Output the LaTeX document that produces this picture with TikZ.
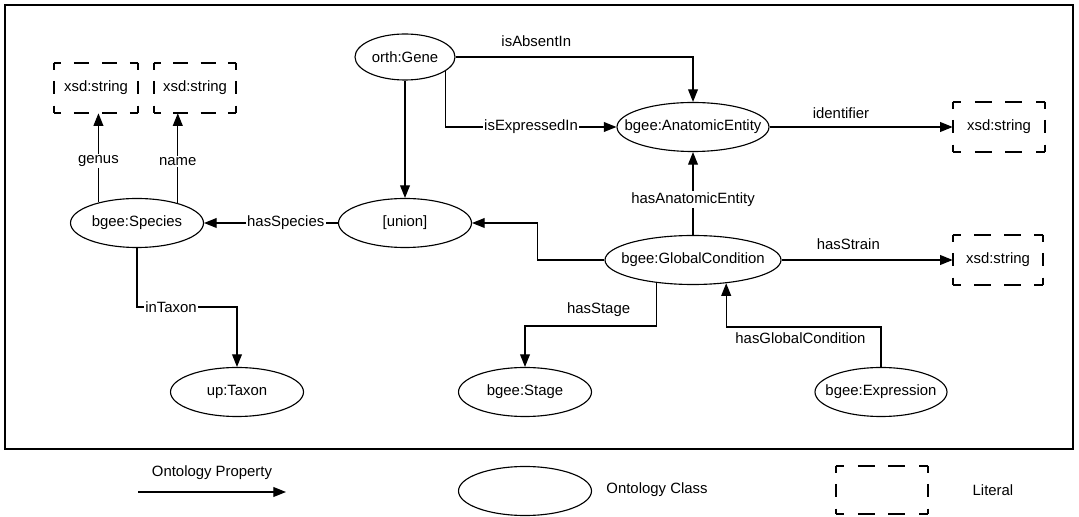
\documentclass[tikz,border=0pt]{standalone}
\usepackage{fontspec}
\setmainfont{Liberation Sans}
\usetikzlibrary{shapes.geometric, arrows.meta}

\newcommand{\clsname}[1]{\makebox[0pt]{#1}}

\begin{document}
\begin{tikzpicture}[
    x=0.025cm, y=-0.025cm,
    >={Triangle[length=9pt, width=7pt]},
    font=\fontsize{10.6}{12}\selectfont,
    cls/.style={draw, ellipse, line width=0.8pt, inner sep=0pt, minimum width=#1*0.025cm, minimum height=1.225cm},
    cls/.default=133,
    lit/.style={rectangle, minimum width=#1*0.025cm, minimum height=1.25cm},
    lit/.default=90,
    litline/.style={line width=1.2pt, line cap=butt},
    prop/.style={->, line width=0.9pt},
    lbl/.style={fill=white, inner sep=1pt}
]
    \useasboundingbox (0,0) rectangle (1079,517);
    \draw[line width=0.8pt] (5,5) rectangle (1073,449);

    \node[cls=100, minimum height=1.15cm] (gene) at (405,57) {\clsname{orth:Gene}};
    \node[cls=152] (ae) at (693,127) {\clsname{bgee:AnatomicEntity}};
    \node[cls] (union) at (405,223) {\clsname{[union]}};
    \node[cls] (species) at (137,223) {\clsname{bgee:Species}};
    \node[cls=176] (gc) at (693,260) {\clsname{bgee:GlobalCondition}};
    \node[cls] (taxon) at (237,392) {\clsname{up:Taxon}};
    \node[cls] (stage) at (525,392) {\clsname{bgee:Stage}};
    \node[cls=132] (expr) at (881,392) {\clsname{bgee:Expression}};
    \node[lit=84] (genusLit) at (96,88) {xsd:string};
    \node[lit=82] (nameLit) at (195,88) {xsd:string};
    \node[lit=92] (idLit) at (999,127) {xsd:string};
    \node[lit=90] (strainLit) at (998,260) {xsd:string};

    \draw[prop] (gene.south) -- (union.north);
    \draw[prop] (gene.east) -| node[pos=0.17, above=3.5pt] {isAbsentIn} (ae.north);
    \draw[prop] (gene.-19) |- node[lbl, pos=0.75] {isExpressedIn} (ae.west);
    \draw[prop] (ae.east) -- node[pos=0.39, above=2pt] {identifier} (idLit.west);
    \draw[prop] (gc.north) -- node[lbl, pos=0.43] {hasAnatomicEntity} (ae.south);
    \draw[prop] (gc.east) -- node[pos=0.39, above=3.5pt] {hasStrain} (strainLit.west);
    \draw[prop] (gc.west) -- ++(-67,0) |- (union.east);
    \draw[prop] (union.west) -- node[lbl, pos=0.39] {hasSpecies} (species.east);
    \draw[prop] (species.152) -- node[lbl, pos=0.46] {genus} (species.152 |- genusLit.south);
    \draw[prop] (species.26) -- node[lbl, pos=0.46] {name} (species.26 |- nameLit.south);
    \draw[prop] (species.south) -- ++(0,59) -| node[lbl, pos=0.17] {inTaxon} (taxon.north);
    \draw[prop] (gc.212) -- (gc.212 |- 0,326) -| node[pos=0.22, above=3pt] {hasStage} (stage.north);
    \draw[prop] (expr.north) -- (expr.north |- 0,327) -| node[pos=0.26, below] {hasGlobalCondition} (gc.-35);

    % legend
    \coordinate (propStart) at (138,492);
    \coordinate (propEnd) at (286,492);
    \draw[prop] (propStart) -- node[above=5pt] {Ontology Property} (propEnd);
    \node[cls] (legCls) at (525,491) {};
    \node (legClsTxt) at (657,490) {Ontology Class};
    \node[lit=92, minimum height=1.2cm] (legLit) at (882,490) {};
    \node (legLitTxt) at (993,490) {Literal};

    % dashed literal borders, corners kept solid
    \foreach \n/\w in {genusLit/84, nameLit/82, idLit/92, strainLit/90, legLit/92}{
        \pgfmathsetmacro{\hd}{0.55*\w*0.7087/3}
        \pgfmathsetmacro{\hg}{0.45*\w*0.7087/3}
        \pgfmathsetmacro{\hph}{0.5*\hd}
        \draw[litline, dash pattern=on \hd pt off \hg pt, dash phase=\hph pt]
            (\n.north west) -- (\n.north east) (\n.south west) -- (\n.south east);
        \draw[litline, dash pattern=on 9.74pt off 7.97pt, dash phase=4.87pt]
            (\n.north west) -- (\n.south west) (\n.north east) -- (\n.south east);
    }
\end{tikzpicture}
\end{document}
